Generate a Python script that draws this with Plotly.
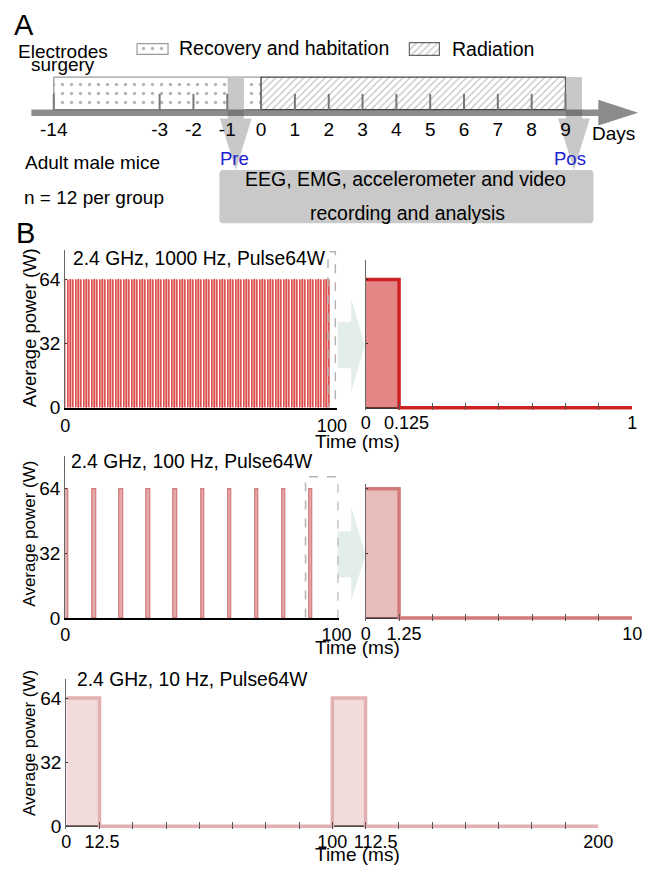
import plotly.graph_objects as go

# The page body keeps the browser's default 8 px margin, so the figure is sized
# to fit exactly inside the 655x874 window; layout helpers below work in window pixels.
WIN_W, WIN_H = 655, 874
OFF = 8
W, H = WIN_W - OFF, WIN_H - 2 * OFF     # 647 x 858

# ---------------- data ----------------
timeline_days = [-14, -3, -2, -1, 0, 1, 2, 3, 4, 5, 6, 7, 8, 9]
recovery_days = [-14, 0]
radiation_days = [0, 9]
recording_days = [-1, 9]
recording_names = ["Pre", "Pos"]

power_ticks = [0, 32, 64]
pulse_power = 64  # W

panel_titles = ["2.4 GHz, 1000 Hz, Pulse64W", "2.4 GHz, 100 Hz, Pulse64W", "2.4 GHz, 10 Hz, Pulse64W"]

NB = "\u00a0"  # non-breaking space: nudges a few tick labels right, as in the original

# 1000 Hz train (first 100 ms) and its zoom (first 1 ms)
onsets_1000 = list(range(0, 100))          # ms, one pulse per ms
width_1000 = 0.125                          # ms
zoom_end_1000 = 1
zoom_ticks_1000 = [0, 0.125, 0.25, 0.375, 0.5, 0.625, 0.75, 0.875, 1]
zoom_labels_1000 = ["0", NB * 3 + "0.125", "", "", "", "", "", "", "1"]

# 100 Hz train (first 100 ms) and its zoom (first 10 ms)
onsets_100 = [0, 10, 20, 30, 40, 50, 60, 70, 80, 90]
width_100 = 1.25
zoom_end_100 = 10
zoom_ticks_100 = [0, 1.25, 2.5, 3.75, 5, 6.25, 7.5, 8.75, 10]
zoom_labels_100 = ["0", NB * 2 + "1.25", "", "", "", "", "", "", "10"]

# 10 Hz train (first 200 ms)
onsets_10 = [0, 100]
width_10 = 12.5
end_10 = 200
ticks_10 = [0, 12.5, 25, 37.5, 50, 62.5, 75, 87.5, 100, 112.5, 125, 137.5, 150, 162.5, 175, 187.5, 200]
labels_10 = ["0", NB + "12.5", "", "", "", "", "", "", "100", NB * 4 + "112.5", "", "", "", "", "", "", "200"]

C1 = (204, 34, 34)
C2 = (212, 122, 122)
C3 = (226, 176, 176)

FONT = "Liberation Sans, Arial, sans-serif"


def rgb(c, a=None):
    return f"rgb{c}" if a is None else f"rgba({c[0]},{c[1]},{c[2]},{a})"


def PX(x):  # window pixel -> paper x
    return (x - OFF) / W


def PY(y):  # window pixel -> paper y
    return 1 - (y - OFF) / H


def xd(a, b):
    return [PX(a), PX(b)]


def yd(top, bottom):
    return [PY(bottom), PY(top)]


def step_xy(onsets, width, end, amp):
    xs, ys = [], []
    for i, t in enumerate(onsets):
        if i > 0:
            xs.append(t); ys.append(0)
        xs += [t, t + width, t + width]
        ys += [amp, amp, 0]
    xs.append(end); ys.append(0)
    return xs, ys


# timeline axis (panel A): day units
DAY0, DAYW = 264, 34.9


def ax(p):
    return (p - DAY0) / DAYW


def tl(d):
    # broken axis: the days before -3 are compressed
    return d if d >= -3 else -3 - 3.13 * (-3 - d) / 11


fig = go.Figure()

# ---------------- panel B traces ----------------
fig.add_trace(go.Bar(x=[t + width_1000 / 2 for t in onsets_1000], y=[pulse_power] * len(onsets_1000),
                     width=width_1000, marker=dict(color=rgb(C1, 0.45), line=dict(color=rgb((214, 40, 40)), width=0.9)),
                     xaxis="x", yaxis="y", hoverinfo="skip", showlegend=False))
sx, sy = step_xy([0], width_1000, zoom_end_1000, pulse_power)
fig.add_trace(go.Scatter(x=sx, y=sy, mode="lines", fill="tozeroy", fillcolor=rgb(C1, 0.55),
                         line=dict(color=rgb(C1), width=3.5), xaxis="x2", yaxis="y2",
                         hoverinfo="skip", showlegend=False))
fig.add_trace(go.Bar(x=[t + width_100 / 2 for t in onsets_100], y=[pulse_power] * len(onsets_100),
                     width=width_100, marker=dict(color=rgb(C2, 0.65), line=dict(color=rgb(C2), width=1.2)),
                     xaxis="x3", yaxis="y3", hoverinfo="skip", showlegend=False))
sx, sy = step_xy([0], width_100, zoom_end_100, pulse_power)
fig.add_trace(go.Scatter(x=sx, y=sy, mode="lines", fill="tozeroy", fillcolor=rgb(C2, 0.5),
                         line=dict(color=rgb(C2), width=3.5), xaxis="x4", yaxis="y4",
                         hoverinfo="skip", showlegend=False))
sx, sy = step_xy(onsets_10, width_10, end_10, pulse_power)
fig.add_trace(go.Scatter(x=sx, y=sy, mode="lines", fill="tozeroy", fillcolor=rgb(C3, 0.45),
                         line=dict(color=rgb(C3), width=3.5), xaxis="x5", yaxis="y5",
                         hoverinfo="skip", showlegend=False))

# ---------------- panel A traces (timeline) ----------------
T = dict(xaxis="x6", yaxis="y6", hoverinfo="skip", showlegend=False)
BAND_TOP, BAND_BOT, BAR_Y = 78, 111, 114


def rect_trace(x0, x1, y0, y1, shape, size, sol, fg, lc, lw):
    return go.Scatter(x=[x0, x1, x1, x0, x0], y=[y0, y0, y1, y1, y0], mode="lines", fill="toself",
                      fillcolor="white",
                      fillpattern=dict(shape=shape, fgcolor=fg, bgcolor="white", size=size, solidity=sol),
                      line=dict(color=lc, width=lw), **T)


DOT = dict(shape=".", size=9, sol=0.11, fg="#6a6a6a")
HATCH = dict(shape="/", size=5, sol=0.22, fg="#7c7c7c")
fig.add_trace(rect_trace(tl(recovery_days[0]), tl(recovery_days[1]), BAND_TOP, BAND_BOT,
                         DOT["shape"], DOT["size"], DOT["sol"], DOT["fg"], "#9a9a9a", 1.3))
fig.add_trace(rect_trace(tl(radiation_days[0]), tl(radiation_days[1]), BAND_TOP, BAND_BOT,
                         HATCH["shape"], HATCH["size"], HATCH["sol"], HATCH["fg"], "#444444", 1.2))
# legend swatches
fig.add_trace(rect_trace(ax(136), ax(168), 44, 55, DOT["shape"], DOT["size"], DOT["sol"], DOT["fg"], "#9a9a9a", 1.2))
fig.add_trace(rect_trace(ax(417), ax(448), 43, 56, HATCH["shape"], HATCH["size"], HATCH["sol"], HATCH["fg"], "#666666", 1.2))

# recording arrows (Pre / Pos)
for d in recording_days:
    c = d + 0.25
    fig.add_trace(go.Scatter(x=[c - 0.24, c + 0.24, c + 0.24, c + 0.47, c, c - 0.47, c - 0.24, c - 0.24],
                             y=[BAND_TOP, BAND_TOP, 120, 120, 172, 120, 120, BAND_TOP],
                             mode="lines", fill="toself", fillcolor="#c8c8c8", line=dict(width=0), **T))

# main time arrow
fig.add_trace(go.Scatter(x=[ax(27), ax(613)], y=[BAR_Y, BAR_Y], mode="lines",
                         line=dict(color="rgba(70,70,70,0.62)", width=6.5), **T))
fig.add_trace(go.Scatter(x=[ax(612), ax(653), ax(612), ax(612)], y=[101, BAR_Y, 127, 101], mode="lines",
                         fill="toself", fillcolor="rgb(140,140,140)", line=dict(width=0), **T))
# day ticks
tx, ty = [], []
for d in timeline_days:
    tx += [tl(d), tl(d), None]
    ty += [95, BAND_BOT, None]
fig.add_trace(go.Scatter(x=tx, y=ty, mode="lines", line=dict(color="rgb(120,120,120)", width=2), **T))
# day labels (drawn over the recording arrows)
fig.add_trace(go.Scatter(x=[tl(d) for d in timeline_days], y=[132.5] * len(timeline_days),
                         text=[str(d) for d in timeline_days], mode="text",
                         textfont=dict(size=19, color="black", family=FONT), **T))

# ---------------- axes ----------------
def xcfg(dom, rng, anchor, tv, tt, line=True, ticks="", standoff=0):
    return dict(domain=xd(*dom), range=rng, anchor=anchor, showgrid=False, zeroline=False,
                showline=line, linecolor="black", linewidth=1.5,
                tickmode="array", tickvals=tv, ticktext=tt, ticks=ticks, ticklen=7,
                tickcolor="#555", tickwidth=1, tickfont=dict(size=18, color="black"), tickangle=0,
                ticklabelstandoff=standoff, fixedrange=True, layer="above traces")


def ycfg(dom, rng, anchor, labels=True, zl=False):
    return dict(domain=yd(*dom), range=rng, anchor=anchor, showgrid=False,
                zeroline=zl, zerolinecolor="#3a3a3a", zerolinewidth=1.5,
                showline=True, linecolor="#666", linewidth=1.2,
                tickmode="array", tickvals=power_ticks, ticktext=[str(v) for v in power_ticks],
                showticklabels=labels, ticks="inside", ticklen=2, tickcolor="#333",
                tickfont=dict(size=19, color="black"), fixedrange=True)


fig.update_layout(
    xaxis=xcfg((62, 342), [0, 101.8], "y", [0, 100], ["0", "100"], standoff=1),
    yaxis=ycfg((253, 413), [0, 78.77], "x"),
    xaxis2=xcfg((372, 647), [0, 1], "y2", zoom_ticks_1000, zoom_labels_1000, line=False, ticks="inside"),
    yaxis2=ycfg((263, 415.5), [-1.23, 73.85], "x2", labels=False, zl=True),
    xaxis3=xcfg((62, 344), [0, 100.8], "y3", [0, 100], ["0", "100"]),
    yaxis3=ycfg((462, 626), [0, 80.1], "x3"),
    xaxis4=xcfg((372, 647), [0, 10], "y4", zoom_ticks_100, zoom_labels_100, line=False, ticks="inside"),
    yaxis4=ycfg((490, 628.5), [-1.22, 66.4], "x4", labels=False, zl=True),
    xaxis5=xcfg((63, 612), [0, 200], "y5", ticks_10, labels_10, line=False, ticks="inside"),
    yaxis5=ycfg((688, 839.5), [-1.23, 73.36], "x5", zl=True),
    xaxis6=dict(domain=[0, 1], range=[ax(OFF), ax(WIN_W)], anchor="y6", visible=False, fixedrange=True),
    yaxis6=dict(domain=[0, 1], range=[WIN_H - OFF, OFF], anchor="x6", visible=False, fixedrange=True),
)

# ---------------- shapes ----------------
def ppath(points):
    return "M " + " L ".join(f"{PX(x):.5f},{PY(y):.5f}" for x, y in points) + " Z"


shapes = []
# light arrows between overview and zoom panels
shapes.append(dict(type="path", xref="paper", yref="paper", layer="below", line=dict(width=0),
                   fillcolor="#e3eeea",
                   path=ppath([(343, 326), (357, 326), (357, 302), (371, 350), (357, 397), (357, 373), (343, 373)])))
shapes.append(dict(type="path", xref="paper", yref="paper", layer="below", line=dict(width=0),
                   fillcolor="#e3eeea",
                   path=ppath([(343, 538), (357, 538), (357, 513), (372, 562), (357, 608), (357, 585), (343, 585)])))
# dashed zoom windows
shapes.append(dict(type="rect", xref="x", yref="y", x0=98.55, x1=101.3, y0=-1, y1=77.8,
                   line=dict(color="#b4b4b4", width=1.5, dash="dash"), layer="above"))
shapes.append(dict(type="rect", xref="x3", yref="y3", x0=88.6, x1=100.6, y0=-2, y1=69.9,
                   line=dict(color="#b4b4b4", width=1.5, dash="dash"), layer="above"))
# grey recording box (rounded)
x0, x1, y0, y1, r = 221, 607, 172, 226, 4
rx, ry = r / W, r / H
X0, X1, Y0, Y1 = PX(x0), PX(x1), PY(y1), PY(y0)
shapes.append(dict(type="path", xref="paper", yref="paper", layer="below", line=dict(width=0),
                   fillcolor="#c9c9c9",
                   path=(f"M {X0 + rx},{Y0} L {X1 - rx},{Y0} Q {X1},{Y0} {X1},{Y0 + ry} "
                         f"L {X1},{Y1 - ry} Q {X1},{Y1} {X1 - rx},{Y1} L {X0 + rx},{Y1} "
                         f"Q {X0},{Y1} {X0},{Y1 - ry} L {X0},{Y0 + ry} Q {X0},{Y0} {X0 + rx},{Y0} Z")))
fig.update_layout(shapes=shapes)

# ---------------- annotations ----------------
def ann(text, x, y, size=19, xanchor="center", color="black", angle=0):
    return dict(text=text, x=PX(x), y=PY(y), xref="paper", yref="paper", xanchor=xanchor,
                yanchor="middle", showarrow=False, textangle=angle,
                font=dict(size=size, color=color, family=FONT))


anns = [
    ann("A", 19, 25, size=29),
    ann("B", 21, 236, size=29),
    ann("Electrodes", 60, 52.5, size=19),
    ann("surgery", 60, 65, size=19),
    ann("Recovery and habitation", 177, 48.5, size=19.5, xanchor="left"),
    ann("Radiation", 459, 49.5, size=19.5, xanchor="left"),
    ann("Days", 628, 135, size=19),
    ann("Adult male mice", 18, 164.5, size=19, xanchor="left"),
    ann("n = 12 per group", 17, 199.5, size=19, xanchor="left"),
    ann(recording_names[0], 237, 160.5, size=18.5, color="#2020d0"),
    ann(recording_names[1], 583, 160.5, size=18.5, color="#2020d0"),
    ann("EEG, EMG, accelerometer and video", 413, 181.5, size=19.5),
    ann("recording and analysis", 415, 215.5, size=19.5),
    ann(panel_titles[0], 68, 261.5, size=19.3, xanchor="left"),
    ann(panel_titles[1], 66, 467, size=19.3, xanchor="left"),
    ann(panel_titles[2], 72, 688.5, size=19.3, xanchor="left"),
    ann("Average power (W)", 25, 332, size=18.5, angle=-90),
    ann("Average power (W)", 25, 540, size=17, angle=-90),
    ann("Average power (W)", 25, 752, size=17, angle=-90),
    ann("Time (ms)", 364, 447, size=19),
    ann("Time (ms)", 364, 656, size=19),
    ann("Time (ms)", 364, 865, size=19),
]

fig.update_layout(
    annotations=anns,
    width=W, height=H, autosize=False,
    margin=dict(l=0, r=0, t=0, b=0, pad=0),
    paper_bgcolor="white", plot_bgcolor="rgba(0,0,0,0)",
    font=dict(family=FONT, size=18, color="black"),
    showlegend=False, bargap=0,
)

fig.write_html("out.html", config={"displayModeBar": False, "responsive": False})
